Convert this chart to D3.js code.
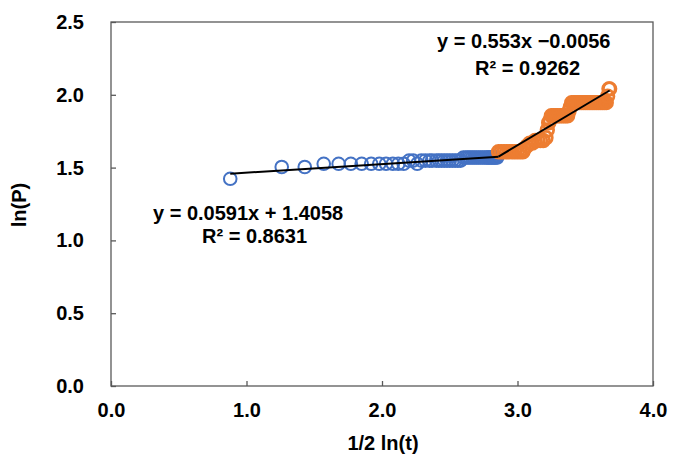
<!DOCTYPE html>
<html><head><meta charset="utf-8">
<script src="https://cdn.jsdelivr.net/npm/d3@7"></script>
<style>body{margin:0;background:#fff}svg{display:block}text{font-family:"Liberation Sans",Arial,sans-serif;font-weight:bold;fill:#000}</style>
</head><body>
<script>
const xTicks = [0, 1, 2, 3, 4];
const yTicks = [0, 0.5, 1.0, 1.5, 2.0, 2.5];
const blueX = [0.88,1.26,1.43,1.57,1.68,1.77,1.85,1.92,1.98,2.03,2.08,2.12,2.16,2.20,2.23,2.26,2.29,2.32,2.35,2.37,2.40,2.42,2.44,2.46,2.48,2.50,2.52,2.54,2.56,2.58,2.60,2.62,2.635,2.65,2.665,2.68,2.695,2.71,2.725,2.74,2.755,2.77,2.78,2.79,2.80,2.81,2.82,2.83,2.84,2.85];
const blueY = [1.423,1.504,1.504,1.526,1.526,1.526,1.526,1.526,1.526,1.526,1.526,1.526,1.526,1.548,1.548,1.526,1.548,1.548,1.548,1.548,1.548,1.548,1.548,1.548,1.548,1.548,1.548,1.548,1.548,1.548,1.569,1.569,1.569,1.569,1.569,1.569,1.569,1.569,1.569,1.569,1.569,1.569,1.569,1.569,1.569,1.569,1.569,1.569,1.569,1.569];
const orangeX = [2.86,2.88,2.90,2.92,2.94,2.96,2.98,3.00,3.02,3.04,3.05,3.07,3.09,3.11,3.13,3.15,3.17,3.19,3.21,3.22,3.23,3.24,3.25,3.265,3.28,3.295,3.31,3.325,3.34,3.355,3.37,3.38,3.39,3.40,3.415,3.43,3.445,3.46,3.475,3.49,3.505,3.52,3.535,3.55,3.565,3.58,3.595,3.61,3.625,3.64,3.655,3.665,3.675,3.68];
const orangeY = [1.609,1.609,1.609,1.609,1.609,1.609,1.609,1.609,1.609,1.609,1.629,1.649,1.668,1.668,1.686,1.686,1.686,1.686,1.705,1.758,1.808,1.825,1.856,1.856,1.856,1.856,1.856,1.856,1.856,1.856,1.856,1.887,1.917,1.946,1.946,1.946,1.946,1.946,1.946,1.946,1.946,1.946,1.946,1.946,1.946,1.946,1.946,1.946,1.946,1.946,1.946,1.99,2.041,2.041];
const fit1 = {slope:0.0591, intercept:1.4058, x0:0.88, x1:2.86, eq:"y = 0.0591x + 1.4058", r2:"R\u00B2 = 0.8631"};
const fit2 = {slope:0.553, intercept:-0.0056, x0:2.86, x1:3.68, eq:"y = 0.553x \u22120.0056", r2:"R\u00B2 = 0.9262"};

const W = 677, H = 463;
const svg = d3.select("body").append("svg").attr("width", W).attr("height", H);
const x = d3.scaleLinear().domain([0, 4]).range([111, 653]);
const y = d3.scaleLinear().domain([0, 2.5]).range([386, 22]);
const axisCol = "#595959";

svg.append("rect").attr("x", x(0)).attr("y", y(2.5)).attr("width", x(4) - x(0)).attr("height", y(0) - y(2.5))
  .attr("fill", "none").attr("stroke", axisCol).attr("stroke-width", 1.3);

const gx = svg.append("g").attr("transform", `translate(0,${y(0)})`)
  .call(d3.axisBottom(x).tickValues(xTicks).tickFormat(d3.format(".1f")).tickSizeInner(-5).tickSizeOuter(0).tickPadding(17));
gx.select(".domain").remove();
gx.selectAll("line").attr("stroke", axisCol).attr("stroke-width", 1.3);
gx.selectAll("text").style("font-size", "20px").style("font-family", "Liberation Sans, Arial").style("font-weight", "bold").attr("fill", "#000");

const gy = svg.append("g").attr("transform", `translate(${x(0)},0)`)
  .call(d3.axisLeft(y).tickValues(yTicks).tickFormat(d3.format(".1f")).tickSizeInner(-5).tickSizeOuter(0).tickPadding(27));
gy.select(".domain").remove();
gy.selectAll("line").attr("stroke", axisCol).attr("stroke-width", 1.3);
gy.selectAll("text").style("font-size", "20px").style("font-family", "Liberation Sans, Arial").style("font-weight", "bold").attr("fill", "#000");

const blue = blueX.map((v, i) => [v, blueY[i]]);
const orange = orangeX.map((v, i) => [v, orangeY[i]]);
svg.append("g").selectAll("circle").data(blue).join("circle")
  .attr("cx", d => x(d[0])).attr("cy", d => y(d[1])).attr("r", 6.3)
  .attr("fill", "none").attr("stroke", "#4472C4").attr("stroke-width", 2);
svg.append("g").selectAll("circle").data(orange).join("circle")
  .attr("cx", d => x(d[0])).attr("cy", d => y(d[1])).attr("r", 6.3)
  .attr("fill", "none").attr("stroke", "#ED7D31").attr("stroke-width", 2.8);

[fit1, fit2].forEach(f => {
  svg.append("line")
    .attr("x1", x(f.x0)).attr("y1", y(f.slope * f.x0 + f.intercept))
    .attr("x2", x(f.x1)).attr("y2", y(f.slope * f.x1 + f.intercept))
    .attr("stroke", "#000").attr("stroke-width", 2);
});

const fs = "20px";
svg.append("text").attr("x", 437).attr("y", 48).style("font-size", fs).text(fit2.eq);
svg.append("text").attr("x", 475).attr("y", 75).style("font-size", fs).text(fit2.r2);
svg.append("text").attr("x", 153).attr("y", 220).style("font-size", fs).text(fit1.eq);
svg.append("text").attr("x", 202).attr("y", 243).style("font-size", fs).text(fit1.r2);

svg.append("text").attr("transform", "translate(26,205) rotate(-90)").attr("text-anchor", "middle")
  .style("font-size", fs).text("ln(P)");
svg.append("text").attr("x", 383).attr("y", 450).attr("text-anchor", "middle")
  .style("font-size", fs).text("1/2 ln(t)");
</script>
</body></html>
